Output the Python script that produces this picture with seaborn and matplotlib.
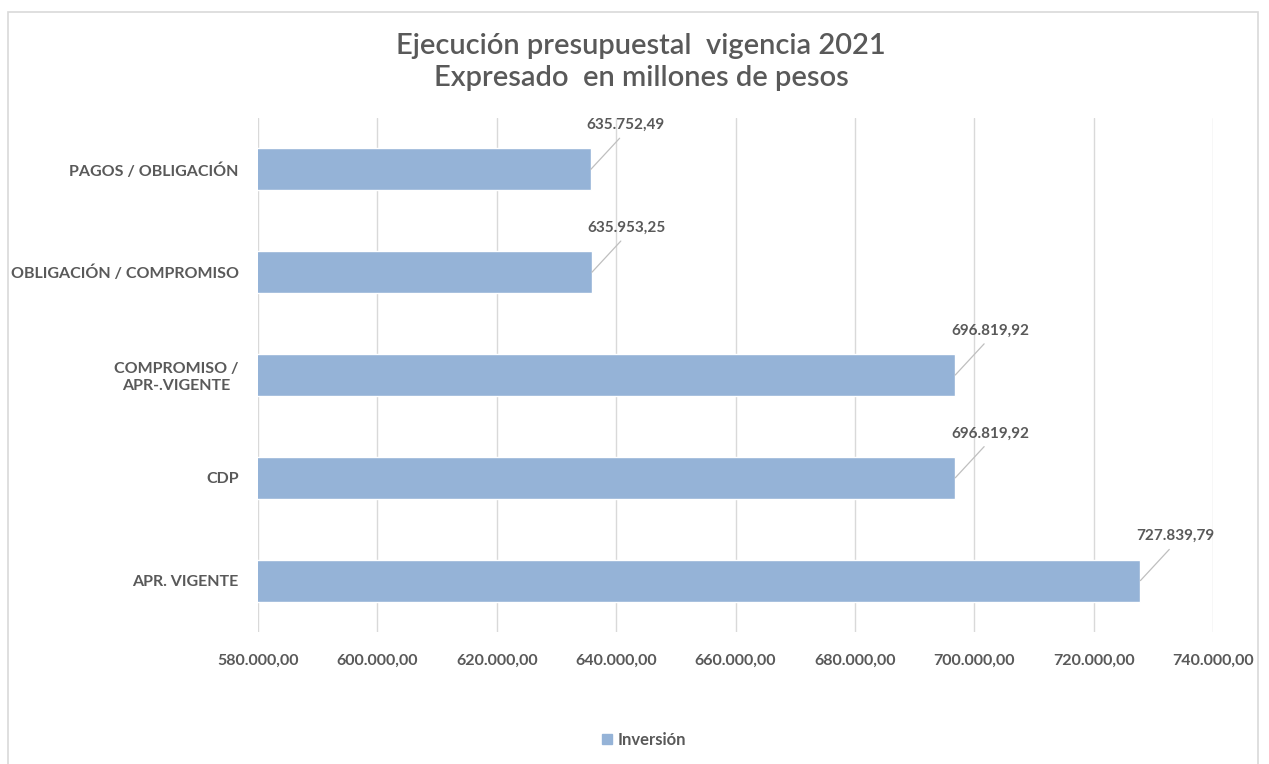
import matplotlib
matplotlib.use("Agg")
import matplotlib.pyplot as plt
import seaborn as sns
import pandas as pd
from matplotlib.patches import Rectangle
from matplotlib.ticker import FuncFormatter

categories = ["PAGOS / OBLIGACIÓN", "OBLIGACIÓN / COMPROMISO", "COMPROMISO /\nAPR-.VIGENTE", "CDP", "APR. VIGENTE"]
values = [635752.49, 635953.25, 696819.92, 696819.92, 727839.79]
value_labels = ["635.752,49", "635.953,25", "696.819,92", "696.819,92", "727.839,79"]
x_ticks = [580000, 600000, 620000, 640000, 660000, 680000, 700000, 720000, 740000]
series_name = "Inversión"
title = "Ejecución presupuestal  vigencia 2021\nExpresado  en millones de pesos"

sns.set_theme(style="white")
plt.rcParams["font.family"] = ["Lato", "DejaVu Sans"]

TXT = "#595959"
BAR = "#95B3D7"
GRID = "#D9D9D9"

df = pd.DataFrame({"cat": categories, "val": values, "serie": series_name})

fig = plt.figure(figsize=(12.69, 7.64), dpi=100)
ax = fig.add_axes([258/1269, 1-632/764, (1213-258)/1269, (632-118)/764])

sns.barplot(data=df, x="val", y="cat", hue="serie", orient="h", palette=[BAR],
            saturation=1, width=0.41, ax=ax, legend=False)

ax.set_xlim(580000, 740000)
ax.set_ylim(4.5, -0.5)
ax.set_xticks(x_ticks)
ax.xaxis.set_major_formatter(FuncFormatter(
    lambda v, p: f"{v:,.2f}".replace(",", "X").replace(".", ",").replace("X", ".")))
ax.grid(axis="x", color=GRID, linewidth=1)
ax.set_axisbelow(True)
for s in ax.spines.values():
    s.set_visible(False)
ax.set_xlabel("")
ax.set_ylabel("")
ax.tick_params(axis="x", length=0, pad=16, labelsize=11.5, labelcolor=TXT)
ax.tick_params(axis="y", length=0, pad=14, labelsize=11.5, labelcolor=TXT)
for t in ax.get_xticklabels():
    t.set_fontweight("bold")
for t in ax.get_yticklabels():
    t.set_fontweight("bold")
    t.set_multialignment("center")

for i, (v, lab) in enumerate(zip(values, value_labels)):
    ax.annotate(lab, xy=(v, i), xytext=(25, 27), textcoords="offset points",
                ha="center", va="bottom", fontsize=11, fontweight="bold", color=TXT,
                arrowprops=dict(arrowstyle="-", color="#BFBFBF", lw=0.9,
                                shrinkA=3, shrinkB=0, relpos=(0.5, 0.0)))

fig.text(641/1269, 1-62/764, title, ha="center", va="center", fontsize=21,
         color=TXT, fontweight="semibold", linespacing=1.25)

fig.patches.append(Rectangle((8/1269, -0.05), 1250/1269, 1.05-12/764, transform=fig.transFigure,
                             fill=False, edgecolor=GRID, linewidth=1.2))

fig.legend(handles=[Rectangle((0, 0), 1, 1, color=BAR)], labels=[series_name],
           loc="center", bbox_to_anchor=(644/1269, 1-740/764), frameon=False,
           handlelength=0.6, handleheight=0.6, handletextpad=0.3,
           prop={"size": 12, "weight": "bold"}, labelcolor=TXT)

fig.savefig("out.png", dpi=100, facecolor="white")
